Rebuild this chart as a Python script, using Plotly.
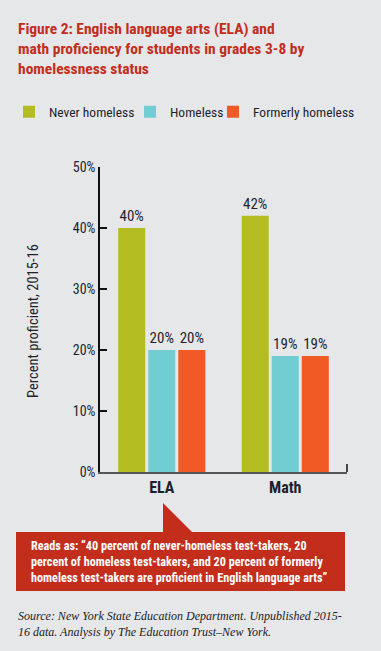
import plotly.graph_objects as go

categories = ["ELA", "Math"]
series_names = ["Never homeless", "Homeless", "Formerly homeless"]
never_homeless = [40, 42]
homeless = [20, 19]
formerly_homeless = [20, 19]
y_ticks = [0, 10, 20, 30, 40, 50]
y_tick_labels = ["0%", "10%", "20%", "30%", "40%", "50%"]

colors = ["#B3BD22", "#72CDD2", "#F15A24"]
RED = "#C32D1C"
BG = "#E6E7E9"
COND = "Liberation Sans Narrow, Roboto Condensed, Arial Narrow, Liberation Sans, sans-serif"
TXT = "#1F1F2E"

W, H = 381, 651
L, R, T, B = 100, 34, 167, 179
PW, PH = W - L - R, H - T - B

def px(x):
    return (x - L) / PW

def py(y):
    return (H - B - y) / PH

legend_ids = ["legend", "legend2", "legend3"]
legend_x = [9, 130, 213]

fig = go.Figure()
for name, vals, col, lid in zip(series_names, [never_homeless, homeless, formerly_homeless], colors, legend_ids):
    fig.add_trace(go.Bar(
        x=categories, y=vals, name=name, marker=dict(color=col, line=dict(width=0)),
        text=[f"{v}%" for v in vals], textposition="outside", legend=lid,
        textfont=dict(family=COND, size=15, color=TXT), cliponaxis=False,
    ))

annotations = [
    dict(text="<b>Figure 2: English language arts (ELA) and<br>math proficiency for students in grades 3-8 by<br>homelessness status</b>",
         x=px(16), y=py(18), xref="paper", yref="paper", xanchor="left", yanchor="top",
         align="left", showarrow=False, font=dict(family=COND, size=15.5, color=RED)),
    dict(text="Percent proficient, 2015-16", textangle=-90, x=px(33), y=py(321),
         xref="paper", yref="paper", xanchor="center", yanchor="middle", showarrow=False,
         font=dict(family=COND, size=14.5, color=TXT)),
    dict(text="<b>Reads as: “40 percent of never-homeless test-takers, 20<br>percent of homeless test-takers, and 20 percent of formerly<br>homeless test-takers are proficient in English language arts”</b>",
         x=px(29), y=py(562), xref="paper", yref="paper", xanchor="left", yanchor="middle",
         align="left", showarrow=False, font=dict(family=COND, size=12.2, color="white")),
    dict(text="<i>Source: New York State Education Department. Unpublished 2015-<br>16 data. Analysis by The Education Trust–New York.</i>",
         x=px(16), y=py(624), xref="paper", yref="paper", xanchor="left", yanchor="middle",
         align="left", showarrow=False, font=dict(family="Liberation Serif, serif", size=12, color="#222")),
]

shapes = [
    dict(type="rect", xref="paper", yref="paper", x0=px(16), x1=px(345), y0=py(532), y1=py(591),
         fillcolor=RED, line=dict(width=0), layer="below"),
    dict(type="path", xref="paper", yref="paper",
         path=f"M {px(163)},{py(503)} L {px(163)},{py(533)} L {px(193)},{py(533)} Z",
         fillcolor=RED, line=dict(width=0), layer="below"),
    dict(type="line", xref="paper", yref="paper", x0=1, x1=1, y0=0, y1=py(464),
         line=dict(color="#111", width=1.5)),
]

legend_common = dict(orientation="h", yanchor="middle", xanchor="left",
                     font=dict(family=COND, size=13.5, color=TXT), bgcolor="rgba(0,0,0,0)",
                     itemclick=False, itemdoubleclick=False)

fig.update_layout(
    width=W, height=H, margin=dict(l=L, r=R, t=T, b=B, autoexpand=False),
    paper_bgcolor=BG, plot_bgcolor=BG,
    barmode="group", bargap=0.27, bargroupgap=0.1,
    font=dict(family=COND, color=TXT),
    showlegend=True,
    legend=dict(x=px(legend_x[0]), y=py(112), **legend_common),
    legend2=dict(x=px(legend_x[1]), y=py(112), **legend_common),
    legend3=dict(x=px(legend_x[2]), y=py(112), **legend_common),
    xaxis=dict(showline=True, linecolor="#555", linewidth=1.5, ticks="", showgrid=False,
               tickfont=dict(family=COND, size=16, color=TXT), zeroline=False,
               tickprefix="<b>", ticksuffix="</b>", range=[-0.5, 1.5]),
    yaxis=dict(range=[0, 50], tickvals=y_ticks, ticktext=y_tick_labels, showline=True,
               linecolor="#111", linewidth=1.5, ticks="inside", ticklen=7, tickwidth=1.5,
               tickcolor="#111", showgrid=False, zeroline=False,
               tickfont=dict(family=COND, size=14, color=TXT)),
    annotations=annotations, shapes=shapes,
)

fig.write_html("out.html", config={"displayModeBar": False},
               post_script="document.body.style.margin='0';")
